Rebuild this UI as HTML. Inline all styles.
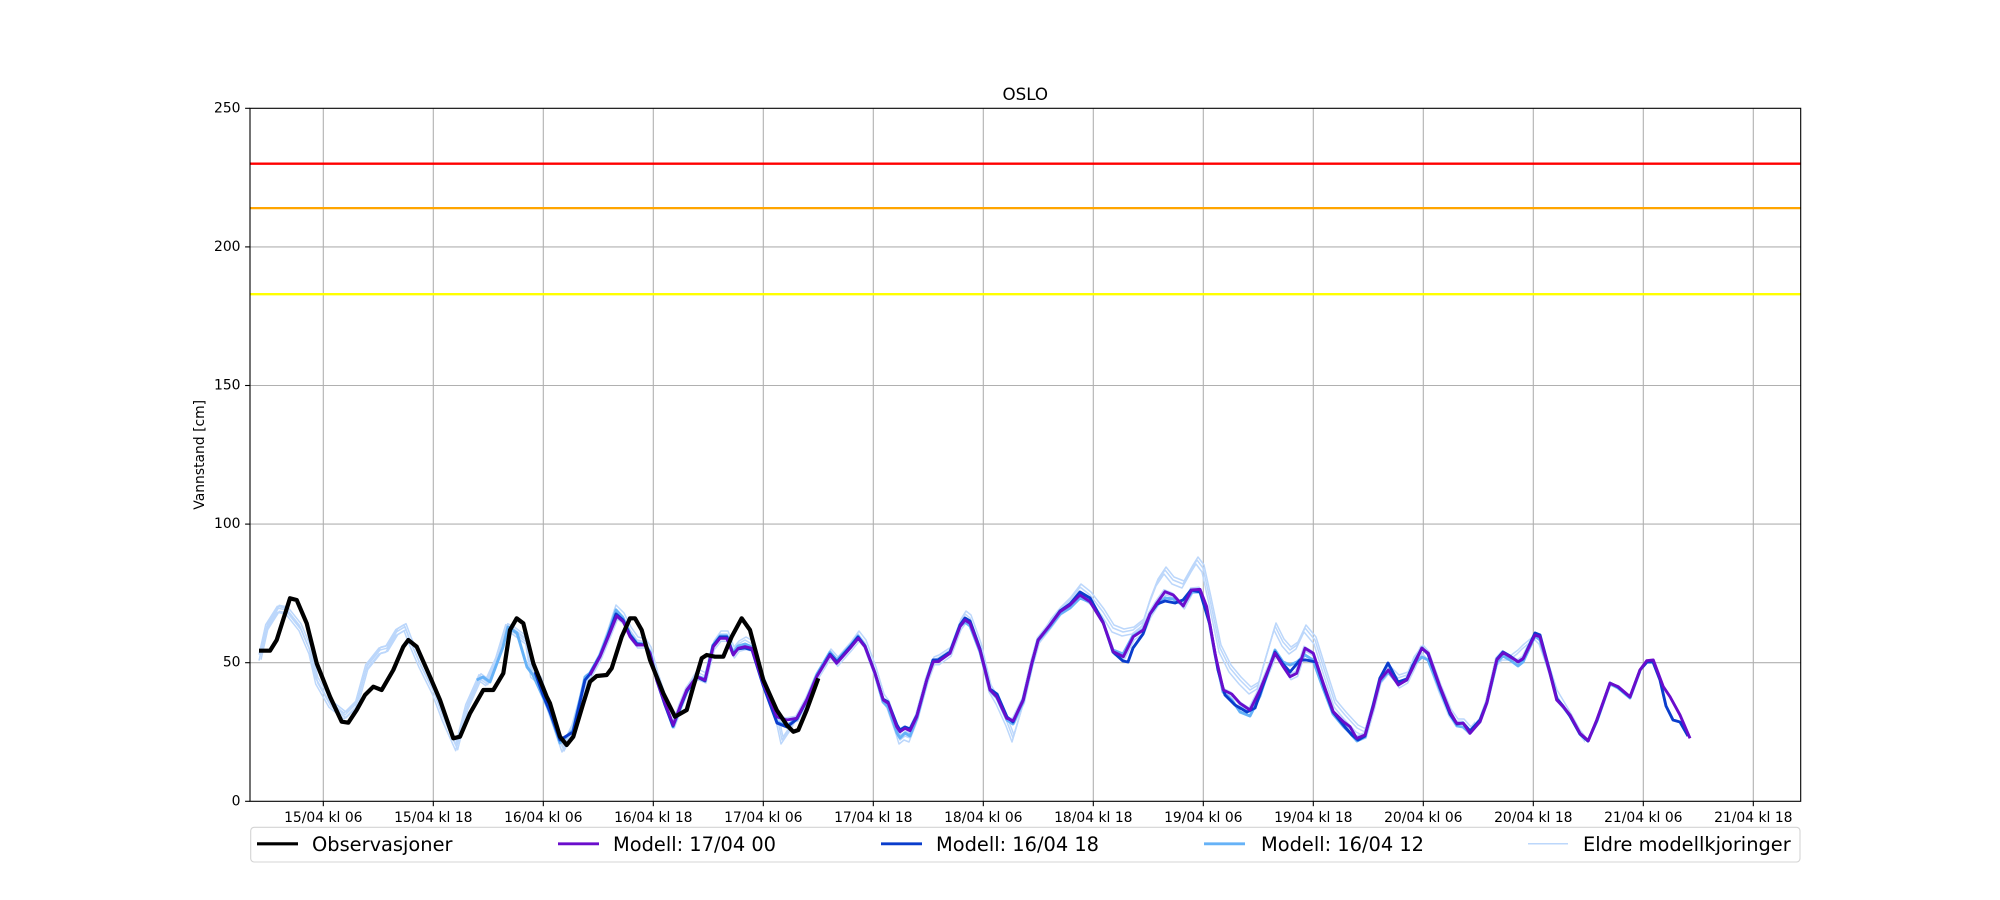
<!DOCTYPE html>
<html><head><meta charset="utf-8"><style>
html,body{margin:0;padding:0;background:#fff;}
svg{display:block;}
text{font-family:"DejaVu Sans","Liberation Sans",sans-serif;fill:#000;}
</style></head><body>
<svg width="2000" height="900" viewBox="0 0 2000 900" xmlns="http://www.w3.org/2000/svg">
<defs>
<clipPath id="ax"><rect x="250" y="108.3" width="1550.7" height="693"/></clipPath>
<clipPath id="c1"><rect x="250" y="108.3" width="1390" height="693"/></clipPath>
<clipPath id="c2"><rect x="250" y="108.3" width="1335" height="693"/></clipPath>
<clipPath id="c3"><rect x="250" y="108.3" width="1280" height="693"/></clipPath>
<clipPath id="c4"><rect x="250" y="108.3" width="1225" height="693"/></clipPath>
<clipPath id="c5"><rect x="250" y="108.3" width="1172" height="693"/></clipPath>
<path id="pre" fill="none" d="M260,656.7 L266.7,626.7 278.3,608.3 286.7,610 300,626.7 310,650 316.7,680 330,703.3 345,715 356.7,703.3 366.7,666.7 380,650 386.7,648.3 396.7,631.7 405,626.7 410,640 420,663.3 433.3,690 443.3,716.7 456.7,746.7 466.7,706.7 480,676.7 486.7,681.7 496.7,660 506.7,626.7 513.3,630 526.7,640 531.7,673.3 540,680 550,710 563,748 573,727 587,677 590,675"/>
<path id="pur" fill="none" d="M590,675 L600,656.7 608.3,636.7 616.7,616 623.3,621.7 630,636.7 636.7,645 645,645 650,653.3 656.7,680 665,703.3 673.3,725 680,706.7 686.7,690 696.7,676.7 705,680 713.3,646.7 720,638.3 726.7,638.3 733.3,655 738.3,648.3 745,646.7 751.7,648.3 763.3,683.3 776.7,716.7 786.7,720 796.7,718.3 806.7,700 816.7,676.7 830,655 836.7,663.3 850,648.3 858.3,638.3 865,646.7 875,673.3 883.3,700 888.3,703.3 896.7,726.7 900,731.7 905,728.3 910,730.7 916.7,716.7 926.7,680 933.3,661.7 938.3,661.7 950,653.3 960,626.7 965,620 970,623.3 980,650 990,690 996.7,696.7 1006.7,718.3 1013.3,720.7 1023.3,700 1031.7,663.3 1038.3,640 1050,625 1060,611.7 1070,605 1080,595 1090,601.7 1103.3,623.3 1113.3,651.7 1123.3,656.7 1133.3,636.7 1143.3,630 1150,614 1156.7,603.3 1165,591.7 1173.3,595 1183.3,606 1191.7,590 1200,589.3 1206.7,606.7 1215,653.3 1223.3,690 1231.7,694 1240,703.3 1250,710 1260,690 1275,653.3 1283.3,666.7 1290,676.7 1296.7,673.3 1305,648.3 1313.3,653.3 1323.3,683.3 1333.3,711.7 1343.3,721.7 1350,726.7 1356.7,738.3 1365,735 1373.3,706.7 1380,680 1388.3,670 1398.3,685 1406.7,680 1413.3,666.7 1421.7,648.3 1428.3,653.3 1440,686.7 1450,711.7 1456.7,723.3 1463.3,723.3 1470,733.3 1480,721.7 1486.7,703.3 1496.7,660 1503.3,652.7 1510,656.7 1518.3,661.7 1523.3,658.3 1535,635 1540,636.7 1550,673.3 1556.7,700 1563.3,706.7 1570,715 1580,733.3 1588.3,740.7 1596.7,720 1610,683.3 1618.3,686.7 1630,696.7 1640,670 1646.7,660.7 1653.3,660 1663.3,686.7 1670,696.7 1680,715 1690,738.3"/>
<path id="oe" fill="none" d="M260,656.7 L266.7,626.7 278.3,608.3 286.7,610 300,626.7 310,650 316.7,680 330,703.3 345,715 356.7,703.3 366.7,666.7 380,650 386.7,648.3 396.7,631.7 405,626.7 410,640 420,663.3 433.3,690 443.3,716.7 456.7,746.7 466.7,706.7 480,676.7 486.7,681.7 496.7,660 506.7,626.7 513.3,630 526.7,640 531.7,673.3 540,680 550,710 563,748 573,727 587,677 593,671 600,652 608,630 615,608 623,616 630,630 637,640 645,642 650,650 657,676 665,700 673,722 680,708 687,688 697,672 705,676 713,644 720,634 727,634 733,650 738,644 745,640 752,644 763,680 776,712 782,740 790,728 797,716 807,698 817,674 830,652 837,660 850,645 858,634 865,643 875,670 883,697 888,704 897,730 900,740 905,736 910,738 917,720 927,684 933,660 938,658 950,650 960,622 965,614 970,618 980,646 990,688 997,700 1007,722 1013,738 1023,704 1032,665 1038,642 1050,622 1060,610 1070,600 1080,587 1090,595 1103,612 1113,628 1123,632 1133,630 1143,622 1150,600 1157,582 1165,570 1173,580 1183,584 1192,568 1197,560 1203,568 1210,600 1220,648 1230,668 1240,680 1250,690 1258,685 1265,660 1275,626 1283,642 1290,650 1297,645 1305,628 1315,640 1325,672 1335,703 1345,715 1357,728 1365,732 1373,706 1380,678 1388,668 1398,678 1407,675 1413,660 1422,648 1428,655 1440,688 1450,712 1457,722 1463,722 1470,730 1480,718 1487,700 1497,662 1503,656 1510,656 1518,650 1523,645 1535,635 1540,640 1550,668 1557,690 1563,700 1570,712 1580,730 1588,740 1597,722 1610,685 1618,688 1630,698 1640,672"/>
</defs>

<!-- grid -->
<g stroke="#b0b0b0" stroke-width="1.1">
<line x1="323.3" y1="108.3" x2="323.3" y2="801.3"/>
<line x1="433.3" y1="108.3" x2="433.3" y2="801.3"/>
<line x1="543.3" y1="108.3" x2="543.3" y2="801.3"/>
<line x1="653.3" y1="108.3" x2="653.3" y2="801.3"/>
<line x1="763.3" y1="108.3" x2="763.3" y2="801.3"/>
<line x1="873.3" y1="108.3" x2="873.3" y2="801.3"/>
<line x1="983.3" y1="108.3" x2="983.3" y2="801.3"/>
<line x1="1093.3" y1="108.3" x2="1093.3" y2="801.3"/>
<line x1="1203.3" y1="108.3" x2="1203.3" y2="801.3"/>
<line x1="1313.3" y1="108.3" x2="1313.3" y2="801.3"/>
<line x1="1423.3" y1="108.3" x2="1423.3" y2="801.3"/>
<line x1="1533.3" y1="108.3" x2="1533.3" y2="801.3"/>
<line x1="1643.3" y1="108.3" x2="1643.3" y2="801.3"/>
<line x1="1753.3" y1="108.3" x2="1753.3" y2="801.3"/>
<line x1="250" y1="662.7" x2="1800.7" y2="662.7"/>
<line x1="250" y1="524.1" x2="1800.7" y2="524.1"/>
<line x1="250" y1="385.5" x2="1800.7" y2="385.5"/>
<line x1="250" y1="246.9" x2="1800.7" y2="246.9"/>
</g>

<!-- thresholds -->
<line x1="250" y1="163.7" x2="1800.7" y2="163.7" stroke="#ff0000" stroke-width="2.3"/>
<line x1="250" y1="208.1" x2="1800.7" y2="208.1" stroke="#ffa500" stroke-width="2.3"/>
<line x1="250" y1="294.2" x2="1800.7" y2="294.2" stroke="#ffff00" stroke-width="2.3"/>

<!-- older runs -->
<g stroke="#bcd7fb" stroke-width="1.5" stroke-linejoin="round" fill="none">
<g clip-path="url(#c1)"><use href="#oe"/></g>
<g clip-path="url(#c2)"><use href="#oe" transform="translate(-1,4)"/></g>
<g clip-path="url(#c3)"><g transform="translate(-1,-2)"><use href="#pre"/><use href="#pur"/></g></g>
<g clip-path="url(#c4)"><use href="#oe" transform="translate(1,-3)"/></g>
<g clip-path="url(#c5)"><g transform="translate(1,3)"><use href="#pre"/><use href="#pur"/></g></g>
</g>

<g clip-path="url(#ax)" fill="none" stroke-linejoin="round" stroke-linecap="butt">
<!-- Modell 16/04 12 -->
<polyline stroke="#66b2f7" stroke-width="2.9" points="476.7,680 483,677 490,682 503,647 508,627 517,633 527,667 533,675 543,697 550,713 560,743 573,730 585,677 590,673 600,655 608,634 616,610 623,618 630,634 637,643 645,644 650,652 657,680 665,704 673,727 680,709 687,690 697,676 705,679 713,645 720,636 727,636 733,653 738,646 745,644 752,647 763,684 777,722 787,726 797,718 807,699 817,674 830,652 837,660 850,646 858,636 865,646 875,674 883,702 888,707 897,733 900,738 905,733 910,736 917,718 927,680 933,660 938,660 950,652 960,626 965,622 970,626 980,652 990,690 997,698 1007,720 1013,724 1023,702 1032,664 1038,641 1050,627 1060,614 1070,608 1080,598 1090,602 1103,622 1113,650 1123,654 1133,636 1143,630 1150,614 1157,605 1165,598 1173,599 1183,605 1192,592 1200,592 1207,610 1215,655 1223,692 1232,700 1240,712 1250,716 1260,696 1275,650 1283,662 1290,665 1297,662 1305,655 1313,660 1323,688 1333,714 1343,726 1350,733 1357,741 1365,737 1373,706 1380,682 1388,672 1398,684 1407,680 1413,665 1422,657 1428,660 1440,690 1450,714 1457,726 1463,727 1470,733 1480,722 1487,703 1497,662 1503,656 1510,660 1518,666 1523,662 1535,636 1540,640 1550,674 1557,700 1563,707 1570,716 1580,734 1588,741 1597,721 1610,684 1618,688 1630,698 1640,671"/>
<!-- Modell 16/04 18 -->
<polyline stroke="#0a3dcc" stroke-width="2.9" points="535,672 543,695 550,712 560,740 573,732 585,680 590,674 600,656 608,636 616,614 623,620 630,635 637,644 645,645 650,653 657,681 665,705 673,726 680,708 687,691 697,677 705,681 713,646 720,637 727,637 733,654 738,649 745,648 752,650 763,685 777,723 787,727 797,719 807,700 817,676 830,654 837,662 850,647 858,637 865,646 875,673 883,699 888,702 897,725 900,730 905,727 910,729 917,715 927,679 933,660 938,660 950,652 960,625 965,618 970,621 980,649 990,689 997,694 1007,717 1013,722 1023,700 1032,663 1038,640 1050,625 1060,611 1070,604 1080,592 1090,598 1103,622 1113,652 1123,661 1128,662 1133,648 1143,634 1150,614 1157,604 1165,601 1175,603 1183,600 1191,590 1200,592 1210,625 1218,670 1225,695 1235,705 1247,712 1255,708 1262,688 1275,652 1283,664 1290,672 1300,660 1306,660 1316,662 1325,690 1333,712 1345,727 1352,735 1358,740 1365,736 1373,706 1380,678 1388,663 1398,682 1407,679 1413,665 1422,648 1428,654 1440,688 1450,714 1457,724 1463,723 1470,731 1480,720 1487,702 1497,659 1503,652 1510,656 1518,662 1523,659 1535,633 1540,635 1550,672 1557,699 1563,706 1570,716 1580,734 1588,741 1597,720 1610,683 1618,687 1630,697 1640,670 1647,662 1653,662 1660,680 1666,706 1673,720 1680,722 1688,736"/>
<!-- Modell 17/04 00 -->
<use href="#pur" stroke="#6a0dcc" stroke-width="2.9"/>
<!-- Observasjoner -->
<polyline stroke="#000" stroke-width="4.2" points="259,650.7 270,650.7 276.7,640 290,598.3 296.7,600 306.7,623.3 316.7,663.3 330,696.7 341.7,721.7 348.3,722.7 356.7,710 365,695 373.3,686.7 381.7,690 393.3,670 403.3,646.7 408.3,640 416.7,646.7 430,676.7 440,700 453.3,738.3 460,736.7 470,713.3 483.3,690 493.3,690 503.3,673.3 510,630 516.7,618.3 523.3,623.3 533.3,663.3 546.7,696.7 550,703.3 560,736.7 566.7,745 573.3,736.7 583.3,703.3 590,681.7 596.7,676 606.7,675 611.7,668.3 621.7,636.7 630,618.3 635,618.3 641.7,630 650,660 663.3,693.3 675,716.7 686.7,710 693.3,686.7 701.7,658.3 706.7,655 715,656.7 723.3,656.7 731.7,636.7 741.7,618.3 750,630 763.3,680 776.7,710 786.7,725 793.3,731.7 798.3,730 806.7,710 818.3,678.3"/>
</g>

<!-- axes frame -->
<rect x="250" y="108.3" width="1550.7" height="693" fill="none" stroke="#000" stroke-width="1.1"/>

<!-- ticks -->
<g stroke="#000" stroke-width="1.1">
<line x1="245.1" y1="801.3" x2="250" y2="801.3"/>
<line x1="245.1" y1="662.7" x2="250" y2="662.7"/>
<line x1="245.1" y1="524.1" x2="250" y2="524.1"/>
<line x1="245.1" y1="385.5" x2="250" y2="385.5"/>
<line x1="245.1" y1="246.9" x2="250" y2="246.9"/>
<line x1="245.1" y1="108.3" x2="250" y2="108.3"/>
<line x1="323.3" y1="801.3" x2="323.3" y2="806.2"/>
<line x1="433.3" y1="801.3" x2="433.3" y2="806.2"/>
<line x1="543.3" y1="801.3" x2="543.3" y2="806.2"/>
<line x1="653.3" y1="801.3" x2="653.3" y2="806.2"/>
<line x1="763.3" y1="801.3" x2="763.3" y2="806.2"/>
<line x1="873.3" y1="801.3" x2="873.3" y2="806.2"/>
<line x1="983.3" y1="801.3" x2="983.3" y2="806.2"/>
<line x1="1093.3" y1="801.3" x2="1093.3" y2="806.2"/>
<line x1="1203.3" y1="801.3" x2="1203.3" y2="806.2"/>
<line x1="1313.3" y1="801.3" x2="1313.3" y2="806.2"/>
<line x1="1423.3" y1="801.3" x2="1423.3" y2="806.2"/>
<line x1="1533.3" y1="801.3" x2="1533.3" y2="806.2"/>
<line x1="1643.3" y1="801.3" x2="1643.3" y2="806.2"/>
<line x1="1753.3" y1="801.3" x2="1753.3" y2="806.2"/>
</g>

<g font-size="13.9" text-anchor="end" dominant-baseline="central">
<text x="240.5" y="801.3">0</text>
<text x="240.5" y="662.7">50</text>
<text x="240.5" y="524.1">100</text>
<text x="240.5" y="385.5">150</text>
<text x="240.5" y="246.9">200</text>
<text x="240.5" y="108.3">250</text>
</g>
<g font-size="13.9" text-anchor="middle">
<text x="323.3" y="822">15/04 kl 06</text>
<text x="433.3" y="822">15/04 kl 18</text>
<text x="543.3" y="822">16/04 kl 06</text>
<text x="653.3" y="822">16/04 kl 18</text>
<text x="763.3" y="822">17/04 kl 06</text>
<text x="873.3" y="822">17/04 kl 18</text>
<text x="983.3" y="822">18/04 kl 06</text>
<text x="1093.3" y="822">18/04 kl 18</text>
<text x="1203.3" y="822">19/04 kl 06</text>
<text x="1313.3" y="822">19/04 kl 18</text>
<text x="1423.3" y="822">20/04 kl 06</text>
<text x="1533.3" y="822">20/04 kl 18</text>
<text x="1643.3" y="822">21/04 kl 06</text>
<text x="1753.3" y="822">21/04 kl 18</text>
</g>

<text x="200" y="454.8" font-size="13.9" text-anchor="middle" dominant-baseline="central" transform="rotate(-90 200 454.8)">Vannstand [cm]</text>
<text x="1025.3" y="100" font-size="16.7" text-anchor="middle">OSLO</text>

<!-- legend -->
<rect x="250.7" y="827.3" width="1549.3" height="34.7" rx="3.5" fill="#fff" stroke="#d4d4d4" stroke-width="1.1"/>
<line x1="257" y1="843.8" x2="298" y2="843.8" stroke="#000" stroke-width="3.2"/>
<line x1="558" y1="843.8" x2="599" y2="843.8" stroke="#6a0dcc" stroke-width="2.9"/>
<line x1="881" y1="843.8" x2="922" y2="843.8" stroke="#0a3dcc" stroke-width="2.9"/>
<line x1="1204" y1="843.8" x2="1245" y2="843.8" stroke="#66b2f7" stroke-width="2.9"/>
<line x1="1528" y1="843.8" x2="1568" y2="843.8" stroke="#bcd7fb" stroke-width="1.5"/>
<g font-size="19.4" dominant-baseline="central">
<text x="312" y="844.5">Observasjoner</text>
<text x="613" y="844.5">Modell: 17/04 00</text>
<text x="936" y="844.5">Modell: 16/04 18</text>
<text x="1261" y="844.5">Modell: 16/04 12</text>
<text x="1583" y="844.5">Eldre modellkjoringer</text>
</g>
</svg>
</body></html>
